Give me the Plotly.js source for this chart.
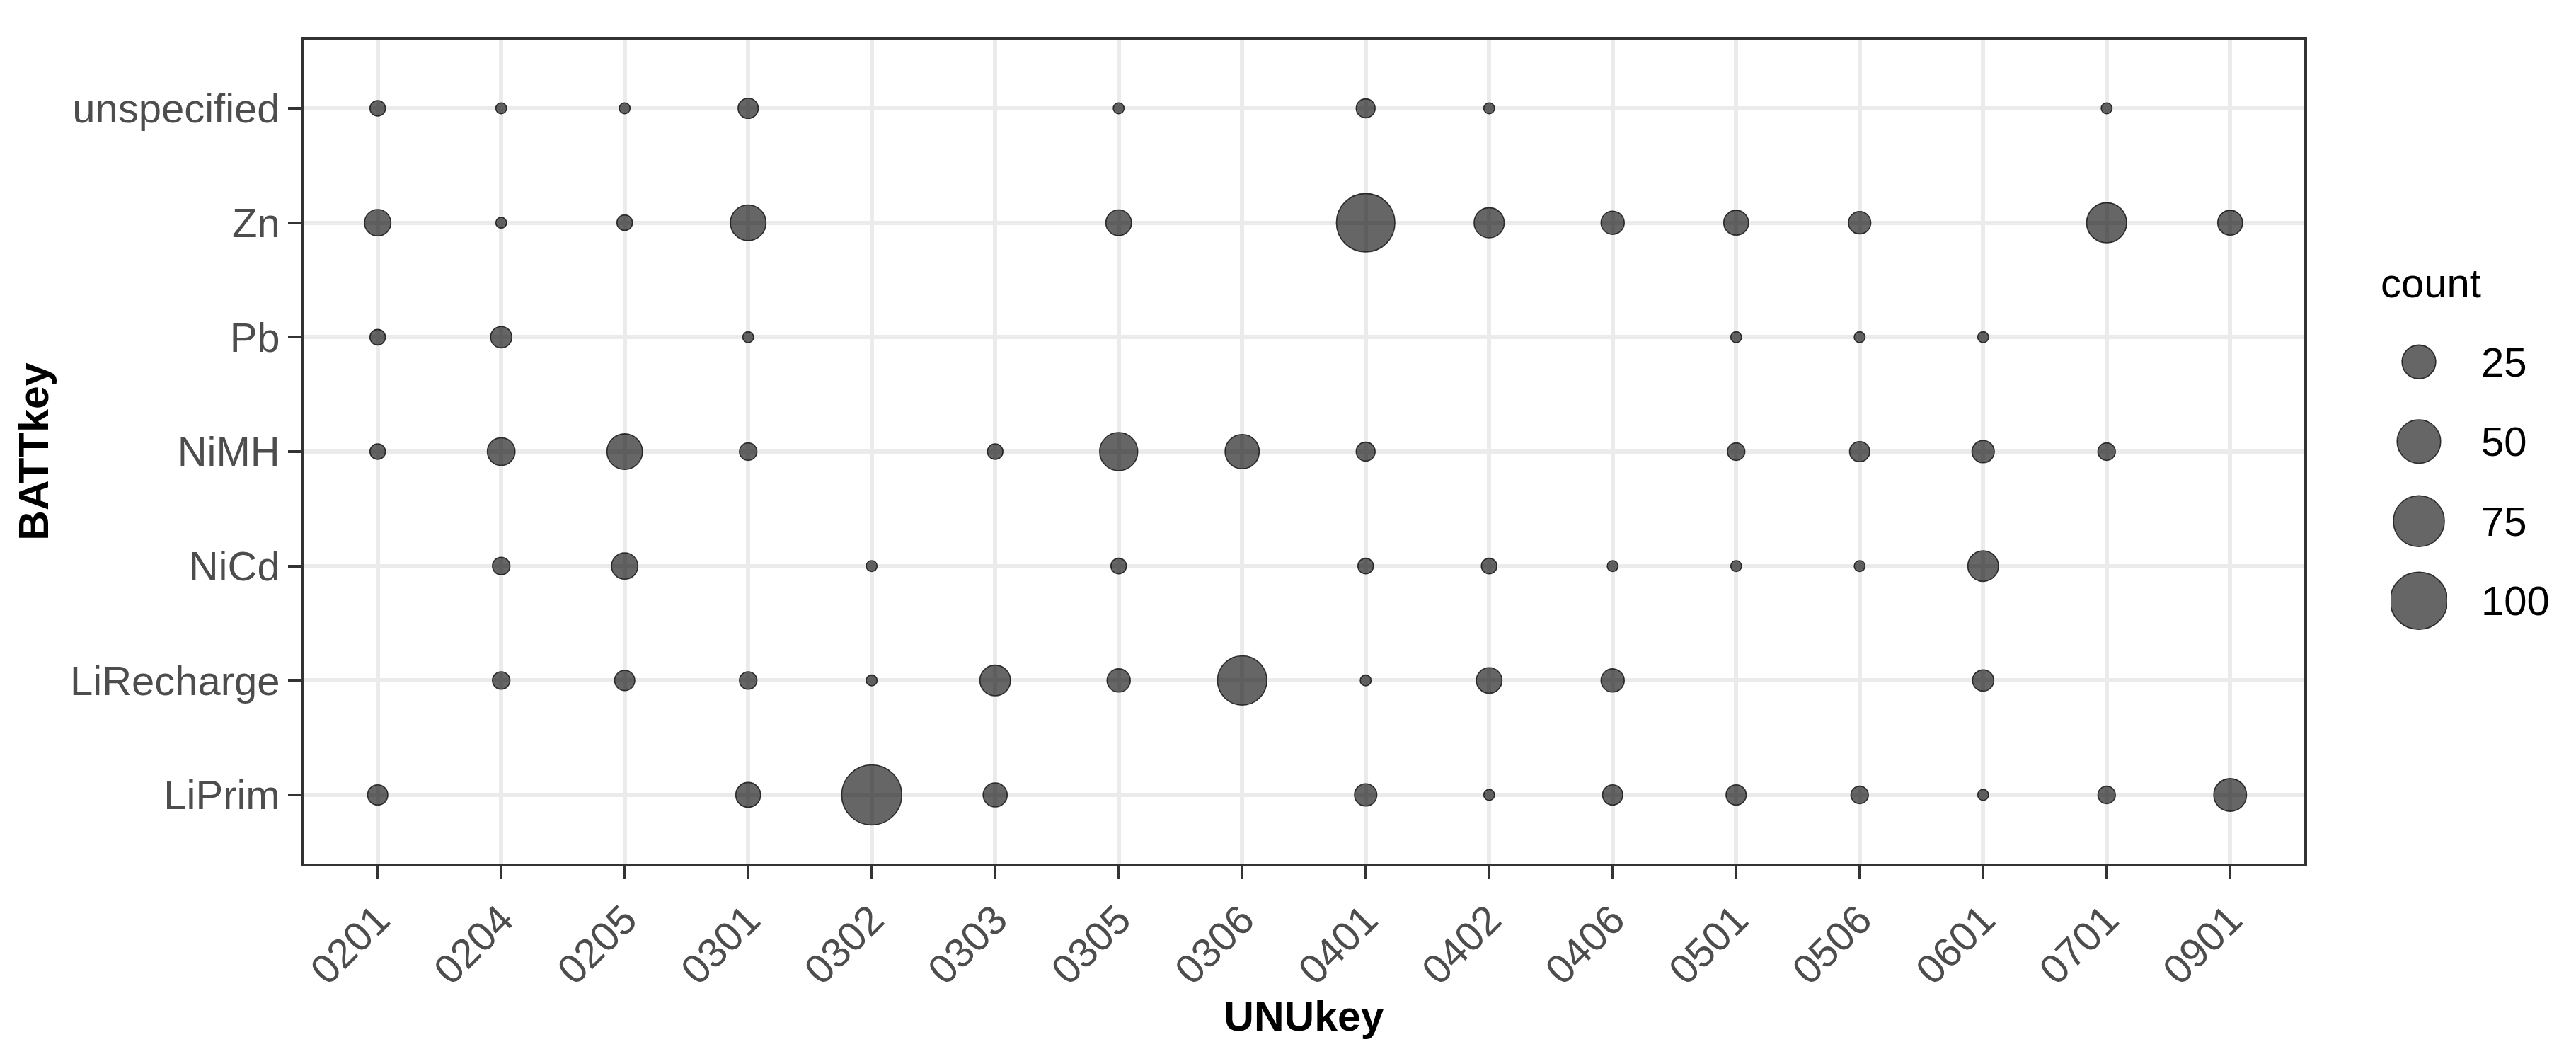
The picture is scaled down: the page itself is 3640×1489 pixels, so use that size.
<!DOCTYPE html>
<html>
<head>
<meta charset="utf-8">
<script src="https://cdn.plot.ly/plotly-3.0.1.min.js"></script>
<style>
  html, body { margin: 0; padding: 0; background: #ffffff; }
  #chart { width: 3640px; height: 1489px; }
</style>
</head>
<body>
<div id="chart"></div>
<script>
// ---- data ----
const UNUkey = ['0201','0204','0205','0301','0302','0303','0305','0306','0401','0402','0406','0501','0506','0601','0701','0901'];
const BATTkey = ['LiPrim','LiRecharge','NiCd','NiMH','Pb','Zn','unspecified'];

// counts per battery type, aligned with UNUkey (null = no point)
const count_LiPrim      = [5, null, null, 10, 112, 9, null, null, 7, 1, 5, 5, 3, 1, 3, 23];
const count_LiRecharge  = [null, 3, 5, 3, 1, 19, 8, 69, 1, 11, 8, null, null, 6, null, null];
const count_NiCd        = [null, 3, 12, null, 1, null, 2, null, 2, 2, 1, 1, 1, 19, null, null];
const count_NiMH        = [2, 14, 29, 3, null, 2, 35, 26, 4, null, null, 3, 5, 7, 3, null];
const count_Pb          = [2, 6, null, 1, null, null, null, null, null, null, null, 1, 1, 1, null, null];
const count_Zn          = [12, 1, 2, 29, null, null, 11, null, 105, 18, 8, 10, 7, null, 40, 10];
const count_unspecified = [2, 1, 1, 5, null, null, 1, null, 4, 1, null, null, null, null, 1, null];

const legendBreaks = [25, 50, 75, 100];
const legendLabels = ['25', '50', '75', '100'];

// ---- build long table ----
const rows = {
  LiPrim: count_LiPrim, LiRecharge: count_LiRecharge, NiCd: count_NiCd,
  NiMH: count_NiMH, Pb: count_Pb, Zn: count_Zn, unspecified: count_unspecified
};
const xs = [], ys = [], cs = [];
BATTkey.forEach(function (b) {
  rows[b].forEach(function (v, i) {
    if (v !== null) { xs.push(UNUkey[i]); ys.push(b); cs.push(v); }
  });
});

// area-style size scale (like ggplot2 scale_size)
const nMin = Math.min.apply(null, cs), nMax = Math.max.apply(null, cs);
const dMin = 17, dMax = 86.5, strokeW = 1.6;
function sizeFor(n) {
  const t = Math.max(0, (n - nMin) / (nMax - nMin));
  return dMin + (dMax - dMin) * Math.sqrt(t) - strokeW;
}

const W = 3640, H = 1489;
const px = function (v) { return v / W; };
const py = function (v) { return 1 - v / H; };

const fillCol = 'rgba(0,0,0,0.6)';
const lineCol = 'rgba(20,20,20,0.85)';
const tickFont = { family: 'Liberation Sans, Arial, sans-serif', size: 58, color: '#4d4d4d' };
const titleFont = { family: 'Liberation Sans, Arial, sans-serif', size: 59, color: '#000000' };

const main = {
  type: 'scatter', mode: 'markers',
  x: xs, y: ys,
  xaxis: 'x', yaxis: 'y',
  marker: {
    size: cs.map(sizeFor), sizemode: 'diameter', opacity: 1,
    color: fillCol, line: { color: lineCol, width: strokeW }
  },
  text: cs, hovertemplate: '%{x}, %{y}: %{text}<extra></extra>',
  showlegend: false
};

const legendIdx = legendBreaks.map(function (_, i) { return i; });
const legendTrace = {
  type: 'scatter', mode: 'markers',
  x: legendBreaks.map(function () { return 0.5; }),
  y: legendIdx,
  xaxis: 'x2', yaxis: 'y2',
  marker: {
    size: legendBreaks.map(sizeFor), sizemode: 'diameter', opacity: 1,
    color: fillCol, line: { color: lineCol, width: strokeW }
  },
  hoverinfo: 'skip', showlegend: false
};

const annotations = [{
  text: 'count', xref: 'paper', yref: 'paper',
  x: px(3362), y: py(399), xanchor: 'left', yanchor: 'middle',
  showarrow: false, font: { family: 'Liberation Sans, Arial, sans-serif', size: 58, color: '#000000' }
}];
legendLabels.forEach(function (lab, i) {
  annotations.push({
    text: lab, xref: 'paper', yref: 'y2',
    x: px(3504), y: i, xanchor: 'left', yanchor: 'middle',
    showarrow: false, font: { family: 'Liberation Sans, Arial, sans-serif', size: 58, color: '#000000' }
  });
});

const layout = {
  width: W, height: H,
  margin: { l: 0, r: 0, t: 0, b: 0, pad: 0 },
  paper_bgcolor: '#ffffff', plot_bgcolor: '#ffffff',
  xaxis: {
    domain: [px(429), px(3256)],
    type: 'category', categoryorder: 'array', categoryarray: UNUkey,
    range: [-0.6, UNUkey.length - 0.4],
    showgrid: true, gridcolor: '#ebebeb', gridwidth: 5.5,
    zeroline: false,
    showline: true, linecolor: '#333333', linewidth: 3.5, mirror: true,
    ticks: 'outside', ticklen: 18, tickwidth: 3.5, tickcolor: '#333333',
    tickangle: -45, tickfont: tickFont,
    title: { text: '<b>UNUkey</b>', font: titleFont, standoff: 0 },
    automargin: false, fixedrange: true
  },
  yaxis: {
    domain: [py(1220), py(56)],
    type: 'category', categoryorder: 'array', categoryarray: BATTkey,
    range: [-0.6, BATTkey.length - 0.4],
    showgrid: true, gridcolor: '#ebebeb', gridwidth: 5.5,
    zeroline: false,
    showline: true, linecolor: '#333333', linewidth: 3.5, mirror: true,
    ticks: 'outside', ticklen: 18, tickwidth: 3.5, tickcolor: '#333333',
    tickfont: tickFont,
    title: { text: '<b>BATTkey</b>', font: titleFont, standoff: 12 },
    automargin: false, fixedrange: true
  },
  xaxis2: {
    domain: [px(3378), px(3458)], range: [0, 1],
    visible: false, fixedrange: true
  },
  yaxis2: {
    domain: [py(905), py(455)], range: [3.5, -0.5],
    visible: false, fixedrange: true
  },
  annotations: annotations,
  hovermode: 'closest'
};

Plotly.newPlot('chart', [main, legendTrace], layout, { displayModeBar: false, responsive: false });
</script>
</body>
</html>
